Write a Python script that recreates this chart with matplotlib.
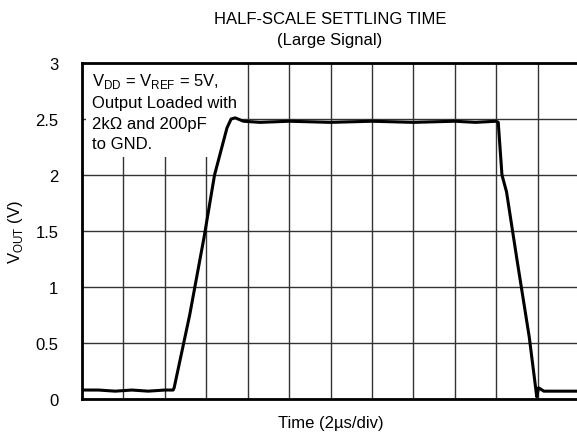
import matplotlib.pyplot as plt
import numpy as np

plt.rcParams['font.family'] = ['Liberation Sans', 'DejaVu Sans']

# time in microseconds, output in volts
t_us = [0.0, 0.8, 1.6, 2.4, 3.2, 4.0, 4.4, 4.45, 5.2, 5.9, 6.4, 7.0, 7.2, 7.4,
        7.8, 8.6, 10.0, 12.0, 14.0, 16.0, 18.0, 19.0, 20.0, 20.1, 20.28,
        20.5, 21.0, 21.6, 21.96, 22.05, 22.3, 23.0, 24.0]
v_out = [0.08, 0.08, 0.07, 0.08, 0.07, 0.08, 0.08, 0.10, 0.75, 1.45, 2.0,
         2.42, 2.50, 2.51, 2.48, 2.47, 2.48, 2.47, 2.48, 2.47, 2.48, 2.47,
         2.48, 2.47, 2.0, 1.85, 1.25, 0.55, 0.02, 0.10, 0.07, 0.07, 0.07]

x_div = 2.0          # µs per division
n_div = 12
y_ticks = [0, 0.5, 1, 1.5, 2, 2.5, 3]

fig = plt.figure(figsize=(5.77, 4.39), dpi=100)
ax = fig.add_axes([82/577, 39/439, 497/577, 336/439])

ax.plot(t_us, v_out, color='black', lw=2.2, zorder=4)

ax.set_xlim(0, x_div*n_div)
ax.set_ylim(0, 3)
ax.set_xticks(np.arange(0, x_div*n_div + 0.1, x_div))
ax.set_yticks(y_ticks)
ax.set_yticklabels(['0', '0.5', '1', '1.5', '2', '2.5', '3'])
ax.tick_params(length=0, labelsize=12, pad=17, labelbottom=False)
ax.grid(True, color='#333333', lw=1.0)
ax.set_axisbelow(True)

for s in ['left', 'bottom', 'top']:
    ax.spines[s].set_linewidth(2)
    ax.spines[s].set_zorder(5)
ax.spines['right'].set_visible(False)

ax.set_ylabel('V$_{\\mathregular{OUT}}$ (V)', fontsize=12)
ax.yaxis.set_label_coords(-57/497, 0.5)
ax.set_xlabel('Time (2µs/div)', fontsize=12)
ax.xaxis.set_label_coords(0.5, -16/336)
fig.text(330/577, 1 - 19/439, 'HALF-SCALE SETTLING TIME', ha='center', va='center', fontsize=12)
fig.text(330/577, 1 - 40/439, '(Large Signal)', ha='center', va='center', fontsize=12)

note = ('V$_{\\mathregular{DD}}$ = V$_{\\mathregular{REF}}$ = 5V,\n'
        'Output Loaded with\n2kΩ and 200pF\nto GND.')
ax.text(0.48, 2.93, note, fontsize=12, va='top', ha='left', linespacing=1.45,
        zorder=3, bbox=dict(facecolor='white', edgecolor='none', pad=4))

fig.savefig('out.png', dpi=100)
